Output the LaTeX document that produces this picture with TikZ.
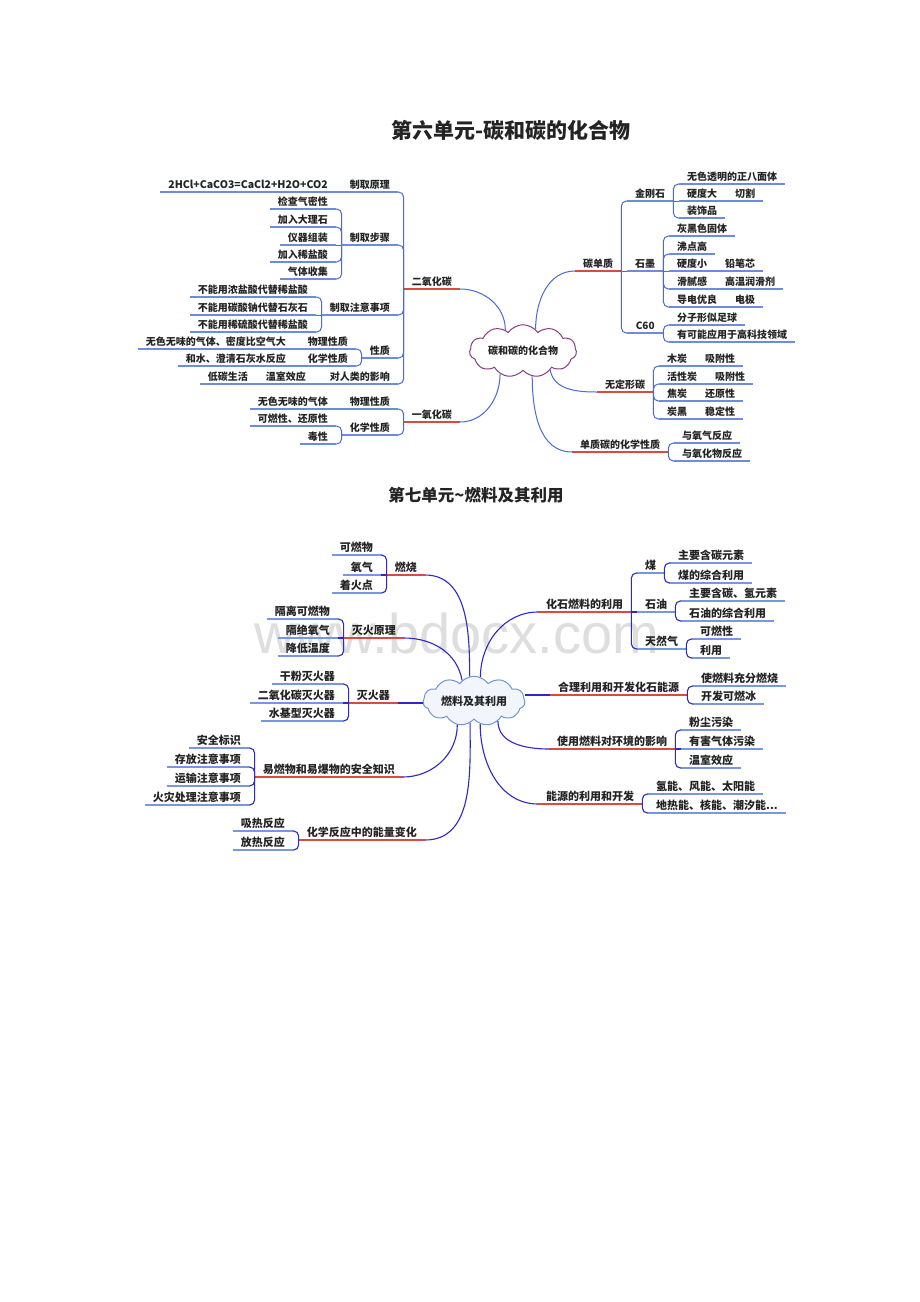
\documentclass[tikz,border=0pt]{standalone}
\usepackage{fontspec}
\setmainfont{Noto Sans CJK SC}
\newfontfamily\wmfont{Liberation Sans}
\usetikzlibrary{shapes.symbols}
\definecolor{txt}{RGB}{35,35,35}
\definecolor{cA}{RGB}{75,105,215}
\definecolor{cAu}{RGB}{110,140,220}
\definecolor{cB}{RGB}{45,40,200}
\definecolor{cBu}{RGB}{120,150,225}
\definecolor{redl}{RGB}{215,75,65}
\definecolor{clA}{RGB}{140,60,130}
\definecolor{clB}{RGB}{110,150,210}
\definecolor{clBf}{RGB}{242,246,252}
\definecolor{wmc}{RGB}{222,222,222}
\newcommand\brL[3][]{\draw[#1] (#2.south west) |- (#3.south east);}
\newcommand\brR[3][]{\draw[#1] (#2.south east) |- (#3.south west);}
\newcommand\lnL[3][]{\draw[#1] (#2.south west) -- (#3.south east);}
\newcommand\lnR[3][]{\draw[#1] (#2.south east) -- (#3.south west);}
\tikzset{
 tA/.style={inner xsep=8pt, inner ysep=2pt, text height=7pt, text depth=1.5pt, text=txt, font=\bfseries\fontsize{10}{12}\selectfont},
 tB/.style={inner xsep=8pt, inner ysep=2pt, text height=8pt, text depth=1.5pt, text=txt, font=\bfseries\fontsize{11}{13}\selectfont},
 ulred/.style={append after command={(\tikzlastnode.south west) edge[draw=redl, line width=1.6pt] (\tikzlastnode.south east)}},
 ulA/.style={append after command={(\tikzlastnode.south west) edge[draw=cAu, line width=1.1pt] (\tikzlastnode.south east)}},
 ulB/.style={append after command={(\tikzlastnode.south west) edge[draw=cBu, line width=1.1pt] (\tikzlastnode.south east)}},
 mA/.style={tA, ulred}, lA/.style={tA, ulA},
 mB/.style={tB, ulred}, lB/.style={tB, ulB},
 kA/.style={draw=cA, line width=1pt, rounded corners=5pt},
 kAu/.style={draw=cAu, line width=1.1pt},
 kB/.style={draw=cB, line width=1.1pt, rounded corners=5pt},
 kBu/.style={draw=cBu, line width=1.1pt},
 aL/.style={anchor=south east}, aR/.style={anchor=south west},
 cloudbox/.style={cloud, cloud puffs=11, cloud puff arc=110, aspect=2.5, inner sep=0pt, line width=1pt}
}
\begin{document}
\begin{tikzpicture}[x=1pt,y=-1pt]
\useasboundingbox (0,0) rectangle (920,1302);
\fill[white] (0,0) rectangle (920,1302);
% watermark
\node[font=\wmfont\fontsize{56}{56}\selectfont, text=wmc, anchor=base] (wm) at (457,653) {www.bdocx.com};
% titles
\node[font=\bfseries\fontsize{21}{24}\selectfont, text=txt] (ttA) at (511,130) {第六单元-碳和碳的化合物};
\node[font=\bfseries\fontsize{16.5}{20}\selectfont, text=txt] (ttB) at (476,495) {第七单元\textasciitilde 燃料及其利用};

% ================= diagram 1 =================
\node[cloudbox, draw=clA, fill=white, minimum width=107pt, minimum height=42pt, font=\bfseries\fontsize{10}{12}\selectfont, text=txt] (cloudA) at (523,351) {碳和碳的化合物};
% left
\node[mA,aL] (co2) at (460,289) {二氧化碳};
\node[lA,aL] (zqyl) at (398,192) {制取原理};
\node[lA,aL,font=\bfseries\fontsize{10.5}{13}\selectfont] (eq) at (336,192) {2HCl+CaCO3=CaCl2+H2O+CO2};
\node[lA,aL] (zqbz) at (398,245) {制取步骤};
\node[lA,aL] (jc) at (336,209) {检查气密性};
\node[lA,aL] (jr1) at (336,227) {加入大理石};
\node[lA,aL] (yq) at (336,245) {仪器组装};
\node[lA,aL] (jr2) at (336,262) {加入稀盐酸};
\node[lA,aL] (qt) at (336,279) {气体收集};
\node[lA,aL] (zqzy) at (398,315) {制取注意事项};
\node[lA,aL] (na) at (316,297) {不能用浓盐酸代替稀盐酸};
\node[lA,aL] (nb) at (316,315) {不能用碳酸钠代替石灰石};
\node[lA,aL] (nc) at (316,332) {不能用稀硫酸代替稀盐酸};
\node[lA,aL] (xz) at (398,358) {性质};
\node[lA,aL] (wl) at (356,349) {物理性质};
\node[lA,aL] (wlc) at (294,349) {无色无味的气体、密度比空气大};
\node[lA,aL] (hx) at (356,366) {化学性质};
\node[lA,aL] (hxc) at (294,366) {和水、澄清石灰水反应};
\node[lA,aL] (yx) at (398,384) {对人类的影响};
\node[lA,aL] (wsx) at (314,384) {温室效应};
\node[lA,aL] (dt) at (256,384) {低碳生活};
\node[mA,aL] (co) at (460,422) {一氧化碳};
\node[lA,aL] (wlb) at (398,409) {物理性质};
\node[lA,aL] (wlbc) at (336,409) {无色无味的气体};
\node[lA,aL] (hxb) at (398,435) {化学性质};
\node[lA,aL] (kr) at (336,426) {可燃性、还原性};
\node[lA,aL] (dx) at (336,444) {毒性};
% right
\node[mA,aR] (dz) at (575,271) {碳单质};
\node[lA,aR] (jgs) at (627,201) {金刚石};
\node[lA,aR] (ja) at (679,184) {无色透明的正八面体};
\node[lA,aR] (jb) at (679,201) {硬度大};
\node[lA,aR] (jbc) at (727,201) {切割};
\node[lA,aR] (jd) at (679,218) {装饰品};
\node[lA,aR] (sm) at (627,271) {石墨};
\node[lA,aR] (sa) at (669,236) {灰黑色固体};
\node[lA,aR] (sb) at (669,254) {沸点高};
\node[lA,aR] (sc) at (669,271) {硬度小};
\node[lA,aR] (scc) at (717,271) {铅笔芯};
\node[lA,aR] (sd) at (669,289) {滑腻感};
\node[lA,aR] (sdc) at (717,289) {高温润滑剂};
\node[lA,aR] (se) at (669,307) {导电优良};
\node[lA,aR] (sec) at (727,307) {电极};
\node[lA,aR,minimum width=36pt] (csx) at (627,333) {C60};
\node[lA,aR] (ca) at (669,325) {分子形似足球};
\node[lA,aR] (cb) at (669,342) {有可能应用于高科技领域};
\node[mA,aR] (wdx) at (597,392) {无定形碳};
\node[lA,aR] (wa) at (659,366) {木炭};
\node[lA,aR] (wac) at (697,366) {吸附性};
\node[lA,aR] (wb) at (659,384) {活性炭};
\node[lA,aR] (wbc) at (707,384) {吸附性};
\node[lA,aR] (wc) at (659,401) {焦炭};
\node[lA,aR] (wcc) at (697,401) {还原性};
\node[lA,aR] (wd) at (659,419) {炭黑};
\node[lA,aR] (wdc) at (697,419) {稳定性};
\node[mA,aR] (dzhx) at (572,452) {单质碳的化学性质};
\node[lA,aR] (ha) at (674,443) {与氧气反应};
\node[lA,aR] (hb) at (674,461) {与氧化物反应};
% connectors D1
\draw[kA] (cloudA.130) to[out=90,in=0] (co2.south east);
\draw[kA] (cloudA.225) to[out=-90,in=0] (co.south east);
\draw[kA] (cloudA.60) to[out=90,in=180] (dz.south west);
\draw[kA] (cloudA.-35) to[out=-80,in=180] (wdx.south west);
\draw[kA] (cloudA.-70) to[out=-90,in=180] (dzhx.south west);
\brL[kA]{co2}{zqyl} \brL[kA]{co2}{zqbz} \brL[kA]{co2}{zqzy} \brL[kA]{co2}{xz} \brL[kA]{co2}{yx}
\lnL[kAu]{zqyl}{eq}
\brL[kA]{zqbz}{jc} \brL[kA]{zqbz}{jr1} \lnL[kA]{zqbz}{yq} \brL[kA]{zqbz}{jr2} \brL[kA]{zqbz}{qt}
\brL[kA]{zqzy}{na} \lnL[kA]{zqzy}{nb} \brL[kA]{zqzy}{nc}
\brL[kA]{xz}{wl} \brL[kA]{xz}{hx} \lnL[kAu]{wl}{wlc} \lnL[kAu]{hx}{hxc}
\lnL[kAu]{yx}{wsx} \lnL[kAu]{wsx}{dt}
\brL[kA]{co}{wlb} \brL[kA]{co}{hxb} \lnL[kAu]{wlb}{wlbc} \brL[kA]{hxb}{kr} \brL[kA]{hxb}{dx}
\brR[kA]{dz}{jgs} \lnR[kA]{dz}{sm} \brR[kA]{dz}{csx}
\brR[kA]{jgs}{ja} \lnR[kA]{jgs}{jb} \brR[kA]{jgs}{jd} \lnR[kAu]{jb}{jbc}
\brR[kA]{sm}{sa} \brR[kA]{sm}{sb} \lnR[kA]{sm}{sc} \brR[kA]{sm}{sd} \brR[kA]{sm}{se}
\lnR[kAu]{sc}{scc} \lnR[kAu]{sd}{sdc} \lnR[kAu]{se}{sec}
\brR[kA]{csx}{ca} \brR[kA]{csx}{cb}
\brR[kA]{wdx}{wa} \brR[kA]{wdx}{wb} \brR[kA]{wdx}{wc} \brR[kA]{wdx}{wd}
\lnR[kAu]{wa}{wac} \lnR[kAu]{wb}{wbc} \lnR[kAu]{wc}{wcc} \lnR[kAu]{wd}{wdc}
\brR[kA]{dzhx}{ha} \brR[kA]{dzhx}{hb}

% ================= diagram 2 =================
\node[cloudbox, draw=clB, fill=clBf, minimum width=102pt, minimum height=42pt, font=\bfseries\fontsize{11}{13}\selectfont, text=txt] (cloudB) at (474,701) {燃料及其利用};
% left
\node[mB,aL] (rs) at (425,575) {燃烧};
\node[lB,aL] (ra) at (381,555) {可燃物};
\node[lB,aL] (rb) at (381,575) {氧气};
\node[lB,aL] (rc) at (381,593) {着火点};
\node[mB,aL] (mhyl) at (404,638) {灭火原理};
\node[lB,aL] (ma) at (338,619) {隔离可燃物};
\node[lB,aL] (mb) at (338,638) {隔绝氧气};
\node[lB,aL] (mc) at (338,656) {降低温度};
\node[mB,aL] (mhq) at (398,703) {灭火器};
\node[lB,aL] (qa) at (343,684) {干粉灭火器};
\node[lB,aL] (qb) at (343,703) {二氧化碳灭火器};
\node[lB,aL] (qc) at (343,721) {水基型灭火器};
\node[mB,aL] (yr) at (403,777) {易燃物和易爆物的安全知识};
\node[lB,aL] (ya) at (249,748) {安全标识};
\node[lB,aL] (yb) at (249,767) {存放注意事项};
\node[lB,aL] (yc) at (249,786) {运输注意事项};
\node[lB,aL] (yd) at (249,805) {火灾处理注意事项};
\node[mB,aL] (nl) at (425,840) {化学反应中的能量变化};
\node[lB,aL] (nla) at (293,831) {吸热反应};
\node[lB,aL] (nlb) at (293,850) {放热反应};
% right
\node[mB,aR] (hs) at (538,612) {化石燃料的利用};
\node[lB,aR] (mei) at (637,573) {煤};
\node[lB,aR] (mea) at (670,563) {主要含碳元素};
\node[lB,aR] (meb) at (670,583) {煤的综合利用};
\node[lB,aR] (sy) at (637,612) {石油};
\node[lB,aR] (sya) at (681,601) {主要含碳、氢元素};
\node[lB,aR] (syb) at (681,621) {石油的综合利用};
\node[lB,aR] (trq) at (637,649) {天然气};
\node[lB,aR] (tra) at (692,639) {可燃性};
\node[lB,aR] (trb) at (692,658) {利用};
\node[mB,aR] (hl) at (550,695) {合理利用和开发化石能源};
\node[lB,aR] (hla) at (693,686) {使燃料充分燃烧};
\node[lB,aR] (hlb) at (693,704) {开发可燃冰};
\node[mB,aR] (yxb) at (549,749) {使用燃料对环境的影响};
\node[lB,aR] (ea) at (681,730) {粉尘污染};
\node[lB,aR] (eb) at (681,749) {有害气体污染};
\node[lB,aR] (ec) at (681,768) {温室效应};
\node[mB,aR] (ny) at (538,804) {能源的利用和开发};
\node[lB,aR] (nya) at (648,794) {氢能、风能、太阳能};
\node[lB,aR] (nyb) at (648,813) {地热能、核能、潮汐能...};
% connectors D2
\draw[kB] (cloudB.100) to[out=90,in=0] (rs.south east);
\draw[kB] (cloudB.120) to[out=100,in=0] (mhyl.south east);
\draw[kB] (mhq.south east) -- (mhq.south east -| cloudB.west);
\draw[kB] (cloudB.235) to[out=-90,in=0] (yr.south east);
\draw[kB] (cloudB.260) to[out=-90,in=0] (nl.south east);
\draw[kB] (cloudB.75) to[out=90,in=180] (hs.south west);
\draw[kB] (hl.south west) -- (hl.south west -| cloudB.east);
\draw[kB] (cloudB.-40) to[out=-90,in=180] (yxb.south west);
\draw[kB] (cloudB.-75) to[out=-90,in=180] (ny.south west);
\brL[kB]{rs}{ra} \lnL[kB]{rs}{rb} \brL[kB]{rs}{rc}
\brL[kB]{mhyl}{ma} \lnL[kB]{mhyl}{mb} \brL[kB]{mhyl}{mc}
\brL[kB]{mhq}{qa} \lnL[kB]{mhq}{qb} \brL[kB]{mhq}{qc}
\brL[kB]{yr}{ya} \brL[kB]{yr}{yb} \brL[kB]{yr}{yc} \brL[kB]{yr}{yd}
\brL[kB]{nl}{nla} \brL[kB]{nl}{nlb}
\brR[kB]{hs}{mei} \lnR[kB]{hs}{sy} \brR[kB]{hs}{trq}
\brR[kB]{mei}{mea} \brR[kB]{mei}{meb}
\brR[kB]{sy}{sya} \brR[kB]{sy}{syb}
\brR[kB]{trq}{tra} \brR[kB]{trq}{trb}
\brR[kB]{hl}{hla} \brR[kB]{hl}{hlb}
\brR[kB]{yxb}{ea} \lnR[kB]{yxb}{eb} \brR[kB]{yxb}{ec}
\brR[kB]{ny}{nya} \brR[kB]{ny}{nyb}
\end{tikzpicture}
\end{document}
